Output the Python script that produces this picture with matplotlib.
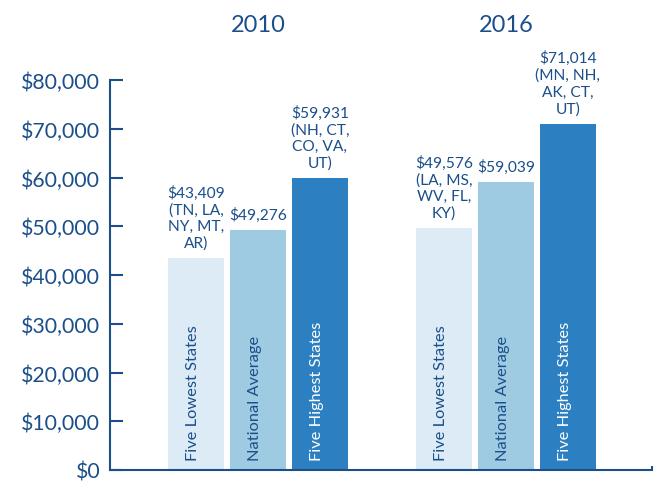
import matplotlib
matplotlib.use('Agg')
import matplotlib.pyplot as plt
import matplotlib.transforms as mtransforms
import numpy as np

years = ['2010', '2016']
categories = ['Five Lowest States', 'National Average', 'Five Highest States']
vals_2010 = [43409, 49276, 59931]
vals_2016 = [49576, 59039, 71014]
states_2010 = ['TN, LA,\nNY, MT,\nAR', '', 'NH, CT,\nCO, VA,\nUT']
states_2016 = ['LA, MS,\nWV, FL,\nKY', '', 'MN, NH,\nAK, CT,\nUT']
yticks = [0, 10000, 20000, 30000, 40000, 50000, 60000, 70000, 80000]

navy = '#1b4f8a'
colors = ['#dcebf6', '#9ecae2', '#2c80c2']
label_colors = [navy, navy, 'white']

plt.rcParams['font.family'] = ['Lato', 'DejaVu Sans']

fig = plt.figure(figsize=(6.56, 4.85), dpi=100)
ax = fig.add_axes([110/656., 14/485., 542/656., 390/485.])

width = 0.903
groups = [(0, vals_2010, states_2010), (4, vals_2016, states_2016)]
for start, vals, states in groups:
    for i in range(3):
        x = start + i
        ax.bar(x, vals[i], width=width, color=colors[i], edgecolor='none')
        txt = '$%s' % format(vals[i], ',')
        if states[i]:
            txt = txt + '\n(' + states[i] + ')'
        ax.annotate(txt, xy=(x, vals[i]), xytext=(0, 6), textcoords='offset points',
                    ha='center', va='bottom', fontsize=11.2, color=navy, linespacing=1.22)
        ax.annotate(categories[i], xy=(x, 0), xytext=(-2, 7), textcoords='offset points',
                    ha='center', va='bottom', rotation=90, fontsize=11.8, color=label_colors[i])

trans = mtransforms.blended_transform_factory(ax.transData, fig.transFigure)
for start, yr in zip([0, 4], years):
    fig.text(start + 1, 1 - 25/485., yr, transform=trans, ha='center', va='center',
             fontsize=17, color=navy)

ax.set_xlim(-1.387, 7.355)
ax.set_ylim(0, 80000)
ax.set_yticks(yticks)
ax.set_yticklabels(['$' + format(v, ',') for v in yticks])
ax.set_xticks([7.355])
ax.set_xticklabels([''])
ax.tick_params(axis='y', direction='in', length=9.5, width=1.5, colors=navy,
               labelsize=15.3, pad=7)
ax.tick_params(axis='x', direction='in', length=3, width=1.5, colors=navy)
for s in ['top', 'right']:
    ax.spines[s].set_visible(False)
for s in ['left', 'bottom']:
    ax.spines[s].set_color(navy)
    ax.spines[s].set_linewidth(1.5)

plt.savefig('out.png', dpi=100)
